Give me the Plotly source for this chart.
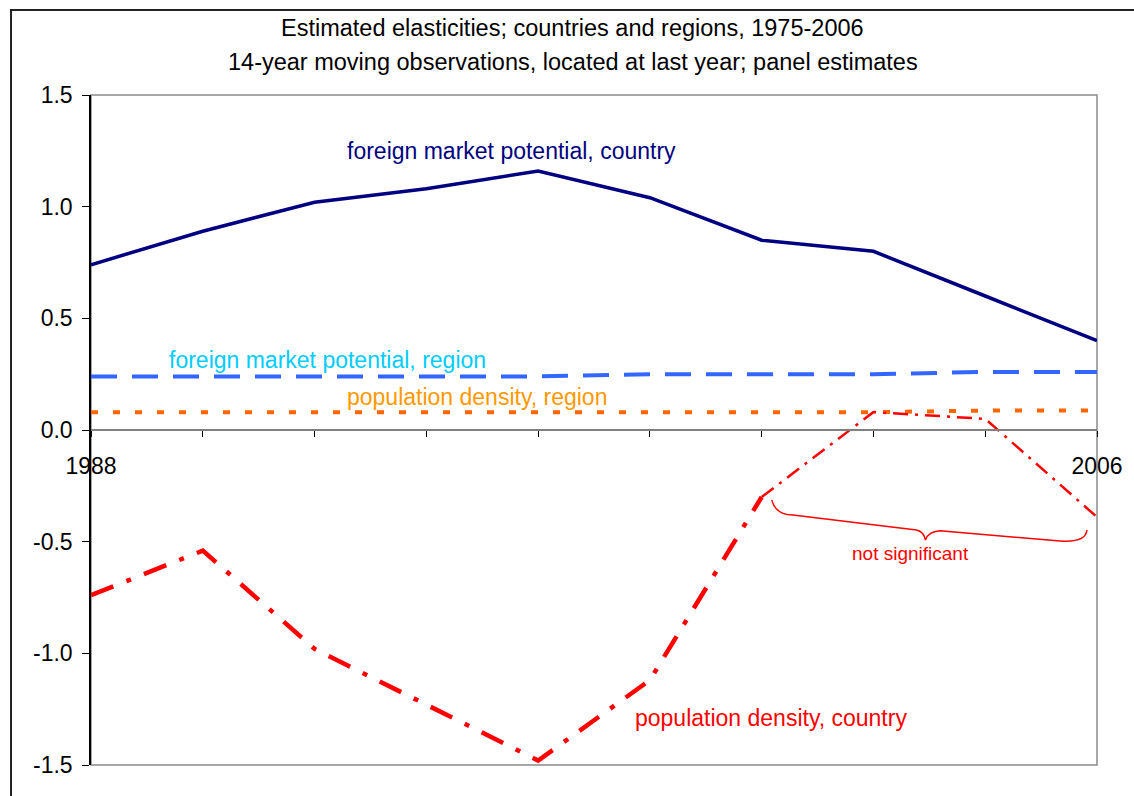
import plotly.graph_objects as go

years = [1988, 1990, 1992, 1994, 1996, 1998, 2000, 2002, 2004, 2006]
fmp_country = [0.74, 0.89, 1.02, 1.08, 1.16, 1.04, 0.85, 0.80, 0.60, 0.40]
fmp_region = [0.24, 0.24, 0.24, 0.24, 0.24, 0.25, 0.25, 0.25, 0.26, 0.26]
pd_region = [0.08, 0.08, 0.08, 0.08, 0.08, 0.08, 0.08, 0.08, 0.087, 0.087]
pd_country = [-0.74, -0.54, -0.98, -1.23, -1.48, -1.12, -0.30, 0.08, 0.05, -0.39]
sig_n = 7  # first 7 points significant (1988-2000)

tick_years = years
tick_text = ["1988", "", "", "", "", "", "", "", "", "2006"]
y_ticks = [-1.5, -1.0, -0.5, 0.0, 0.5, 1.0, 1.5]
y_tick_text = ["-1.5", "-1.0", "-0.5", "0.0", "0.5", "1.0", "1.5"]

FONT = "Liberation Sans, Arial, sans-serif"

fig = go.Figure()
fig.add_trace(go.Scatter(x=years, y=fmp_region, mode="lines",
                         line=dict(color="#3366FF", width=4, dash="26px,15px")))
fig.add_trace(go.Scatter(x=years, y=pd_region, mode="lines",
                         line=dict(color="#FF6600", width=4, dash="7px,15px")))
fig.add_trace(go.Scatter(x=years, y=fmp_country, mode="lines",
                         line=dict(color="#000080", width=3.5)))
fig.add_trace(go.Scatter(x=years[:sig_n], y=pd_country[:sig_n], mode="lines",
                         line=dict(color="#FF0000", width=4.5, dash="24px,14px,5px,14px")))
fig.add_trace(go.Scatter(x=years[sig_n - 1:], y=pd_country[sig_n - 1:], mode="lines",
                         line=dict(color="#FF0000", width=2.5, dash="15px,7px,3px,7px")))

fig.update_layout(
    width=1134, height=796,
    margin=dict(l=91, r=37, t=95, b=31),
    paper_bgcolor="white", plot_bgcolor="white",
    showlegend=False,
    font=dict(family=FONT, color="black", size=23),
    xaxis=dict(range=[1988, 2006], anchor="free", position=0.5,
               showline=True, linecolor="#808080", linewidth=2,
               ticks="outside", ticklen=6, tickcolor="black", tickwidth=1,
               tickvals=tick_years, ticktext=tick_text,
               ticklabelstandoff=9,
               showgrid=False, zeroline=False,
               tickfont=dict(size=23, family=FONT, color="black")),
    yaxis=dict(range=[-1.5, 1.5], showline=True, linecolor="black", linewidth=1.5,
               ticks="outside", ticklen=7, tickcolor="black", tickwidth=1,
               tickvals=y_ticks, ticktext=y_tick_text,
               showgrid=False, zeroline=False, ticklabelstandoff=5,
               tickfont=dict(size=23, family=FONT, color="black")),
)

# plot area border (grey) and outer frame
fig.add_shape(type="rect", xref="paper", yref="paper", x0=0, x1=1, y0=0, y1=1,
              line=dict(color="#8a8a8a", width=1.5), layer="below")
fig.add_shape(type="rect", xref="paper", yref="paper", x0=-0.0795, x1=1.06, y0=-0.06, y1=1.127,
              line=dict(color="#222222", width=2), layer="below")

# title lines
fig.add_annotation(text="Estimated elasticities; countries and regions, 1975-2006",
                   xref="paper", yref="paper", x=0.479, y=1.1, showarrow=False,
                   xanchor="center", yanchor="middle",
                   font=dict(size=23.5, family=FONT, color="black"))
fig.add_annotation(text="14-year moving observations, located at last year; panel estimates",
                   xref="paper", yref="paper", x=0.479, y=1.049, showarrow=False,
                   xanchor="center", yanchor="middle",
                   font=dict(size=23.5, family=FONT, color="black"))

# series labels
labels = [
    ("foreign market potential, country", 1995.53, 1.249, "#000080", 23),
    ("foreign market potential, region", 1992.24, 0.313, "#00CCFF", 23),
    ("population density, region", 1994.91, 0.148, "#FF9900", 23),
    ("population density, country", 2000.17, -1.29, "#FF0000", 23),
    ("not significant", 2002.67, -0.555, "#FF0000", 19),
]
for txt, x, y, c, s in labels:
    fig.add_annotation(text=txt, x=x, y=y, xref="x", yref="y", showarrow=False,
                       xanchor="center", yanchor="middle",
                       font=dict(size=s, family=FONT, color=c))

# curly brace
brace = ("M 2000.18,-0.313 Q 2000.25,-0.38 2000.56,-0.381 L 2002.77,-0.448 "
         "Q 2002.90,-0.455 2002.93,-0.493 Q 2002.97,-0.456 2003.19,-0.451 "
         "L 2005.34,-0.497 Q 2005.80,-0.505 2005.82,-0.448")
fig.add_shape(type="path", path=brace, xref="x", yref="y",
              line=dict(color="#FF0000", width=1.5))

fig.write_html("out.html", config={"displayModeBar": False},
               post_script="document.body.style.margin='0';document.body.style.overflow='hidden';")
